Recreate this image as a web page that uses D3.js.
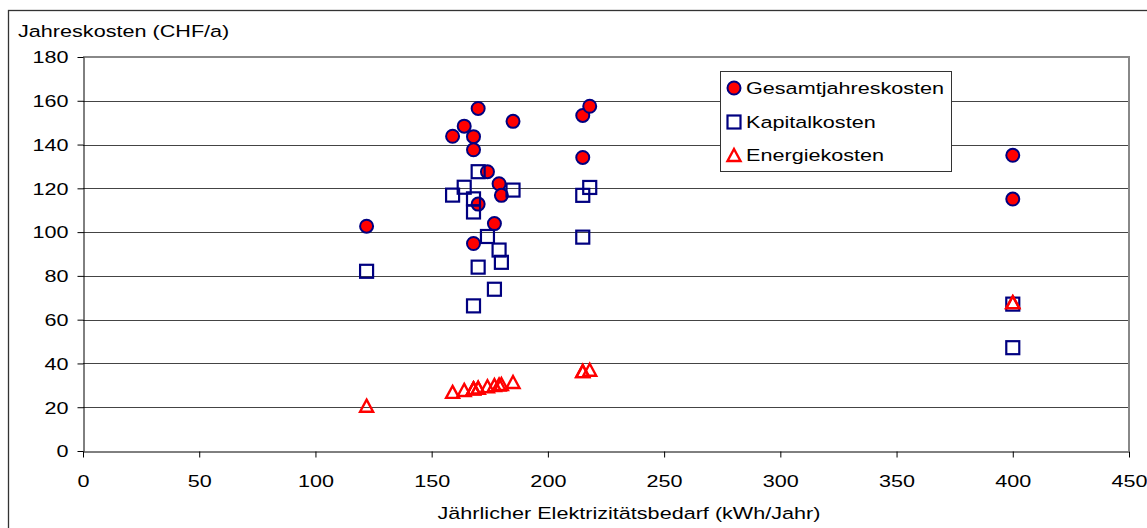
<!DOCTYPE html>
<html>
<head>
<meta charset="utf-8">
<script src="https://cdn.jsdelivr.net/npm/d3@7"></script>
<style>
  body { margin: 0; background: #fff; }
  text { font-family: Arial, "Liberation Sans", sans-serif; fill: #000; }
</style>
</head>
<body>
<div id="chart"></div>
<script>
// data
var demand  = [122, 159, 164, 170, 168, 168, 168, 170, 174, 179, 180, 177, 185, 215, 215, 218, 400, 400];
var total   = [102.7, 143.8, 148.4, 156.5, 143.6, 137.6, 94.8, 112.8, 127.6, 122.1, 116.8, 103.9, 150.6, 153.3, 134.1, 157.5, 135.1, 115.1];
var capital = [82.1, 116.9, 120.5, 127.6, 115.2, 109.2, 66.3, 84.0, 98.0, 91.8, 86.2, 73.9, 119.2, 116.8, 97.7, 120.4, 67.1, 47.2];
var energy  = [20.7, 27.0, 27.9, 28.9, 28.6, 28.6, 28.6, 28.9, 29.6, 30.4, 30.6, 30.1, 31.5, 36.5, 36.5, 37.1, 68.0, 68.0];
var xTicks = [0, 50, 100, 150, 200, 250, 300, 350, 400, 450];
var yTicks = [0, 20, 40, 60, 80, 100, 120, 140, 160, 180];
var seriesNames = ["Gesamtjahreskosten", "Kapitalkosten", "Energiekosten"];

var W = 1147, H = 528;
var pLeft = 83, pRight = 1129, pTop = 57, pBottom = 451;
var sx = 1.31;   // text in the picture is stretched horizontally
var fs = "16.5px";

const svg = d3.select("#chart")
    .append("svg")
    .attr("width", W)
    .attr("height", H);

// outer chart frame
svg.append("rect")
    .attr("x", 8.5).attr("y", 10.5)
    .attr("width", 1150).attr("height", 530)
    .attr("fill", "none")
    .attr("stroke", "#333")
    .attr("stroke-width", 1.3);

var x = d3.scaleLinear().domain([0, 450]).range([pLeft, pRight]);
var y = d3.scaleLinear().domain([0, 180]).range([pBottom, pTop]);

// gridlines
svg.append("g")
    .selectAll("line")
    .data(yTicks.filter(d => d > 0 && d < 180))
    .join("line")
    .attr("x1", pLeft).attr("x2", pRight)
    .attr("y1", d => Math.round(y(d)) + 0.5)
    .attr("y2", d => Math.round(y(d)) + 0.5)
    .attr("stroke", "#444");

// plot area border (top and right, grey)
svg.append("path")
    .attr("d", `M${pLeft},${pTop} H${pRight} V${pBottom}`)
    .attr("fill", "none")
    .attr("stroke", "#888")
    .attr("stroke-width", 2);

// axes
var yAxis = svg.append("g")
    .attr("transform", `translate(${pLeft + 0.5},0)`)
    .call(d3.axisLeft(y).tickValues(yTicks).tickSize(6).tickSizeOuter(0));
yAxis.select(".domain").attr("stroke", "#000");
yAxis.selectAll("line").attr("stroke", "#000");
yAxis.selectAll("text")
    .attr("x", -15 / sx)
    .attr("dy", "0.35em")
    .attr("transform", `scale(${sx},1)`)
    .style("font-size", fs)
    .style("font-family", "Arial, 'Liberation Sans', sans-serif")
    .attr("fill", "#000");

var xAxis = svg.append("g")
    .attr("transform", `translate(0,${pBottom + 0.5})`)
    .call(d3.axisBottom(x).tickValues(xTicks).tickSize(6).tickSizeOuter(0));
xAxis.select(".domain").attr("stroke", "#000");
xAxis.selectAll("line").attr("stroke", "#000");
xAxis.selectAll("text")
    .attr("y", 36)
    .attr("dy", 0)
    .attr("transform", `scale(${sx},1)`)
    .style("font-size", fs)
    .style("font-family", "Arial, 'Liberation Sans', sans-serif")
    .attr("fill", "#000");

// axis titles
svg.append("text")
    .attr("transform", `translate(18,37) scale(${sx},1)`)
    .style("font-size", fs)
    .text("Jahreskosten (CHF/a)");

svg.append("text")
    .attr("transform", `translate(629,519) scale(${sx},1)`)
    .attr("text-anchor", "middle")
    .style("font-size", fs)
    .text("Jährlicher Elektrizitätsbedarf (kWh/Jahr)");

// marker shapes
var sq = 13;
function triPath(cx, cy) {
    var h = 12, w = 13;
    return `M${cx},${cy - h / 2} L${cx + w / 2},${cy + h / 2} L${cx - w / 2},${cy + h / 2} Z`;
}

// Gesamtjahreskosten
svg.append("g")
    .selectAll("circle")
    .data(demand.map((d, i) => [d, total[i]]))
    .join("circle")
    .attr("cx", d => x(d[0]))
    .attr("cy", d => y(d[1]))
    .attr("r", 6.5)
    .attr("fill", "#ff0000")
    .attr("stroke", "#000080")
    .attr("stroke-width", 2);

// Kapitalkosten (hollow squares, drawn over the circles)
svg.append("g")
    .selectAll("rect")
    .data(demand.map((d, i) => [d, capital[i]]))
    .join("rect")
    .attr("x", d => x(d[0]) - sq / 2)
    .attr("y", d => y(d[1]) - sq / 2)
    .attr("width", sq).attr("height", sq)
    .attr("fill", "none")
    .attr("stroke", "#000080")
    .attr("stroke-width", 2.2);

// Energiekosten (hollow triangles)
svg.append("g")
    .selectAll("path")
    .data(demand.map((d, i) => [d, energy[i]]))
    .join("path")
    .attr("d", d => triPath(x(d[0]), y(d[1])))
    .attr("fill", "none")
    .attr("stroke", "#ff0000")
    .attr("stroke-width", 2.4);

// legend
var lg = svg.append("g");
lg.append("rect")
    .attr("x", 720.5).attr("y", 71.5)
    .attr("width", 231).attr("height", 100)
    .attr("fill", "#fff")
    .attr("stroke", "#333");

var rowY = [88, 122, 155];
var mx = 734;
lg.append("circle")
    .attr("cx", mx).attr("cy", rowY[0]).attr("r", 6.5)
    .attr("fill", "#ff0000").attr("stroke", "#000080").attr("stroke-width", 2);
lg.append("rect")
    .attr("x", mx - sq / 2).attr("y", rowY[1] - sq / 2)
    .attr("width", sq).attr("height", sq)
    .attr("fill", "none").attr("stroke", "#000080").attr("stroke-width", 2.2);
lg.append("path")
    .attr("d", triPath(mx, rowY[2]))
    .attr("fill", "none").attr("stroke", "#ff0000").attr("stroke-width", 2.4);

lg.selectAll("text.leg")
    .data(seriesNames)
    .join("text")
    .attr("class", "leg")
    .attr("transform", (d, i) => `translate(746,${rowY[i] + 6}) scale(${sx},1)`)
    .style("font-size", fs)
    .text(d => d);
</script>
</body>
</html>
